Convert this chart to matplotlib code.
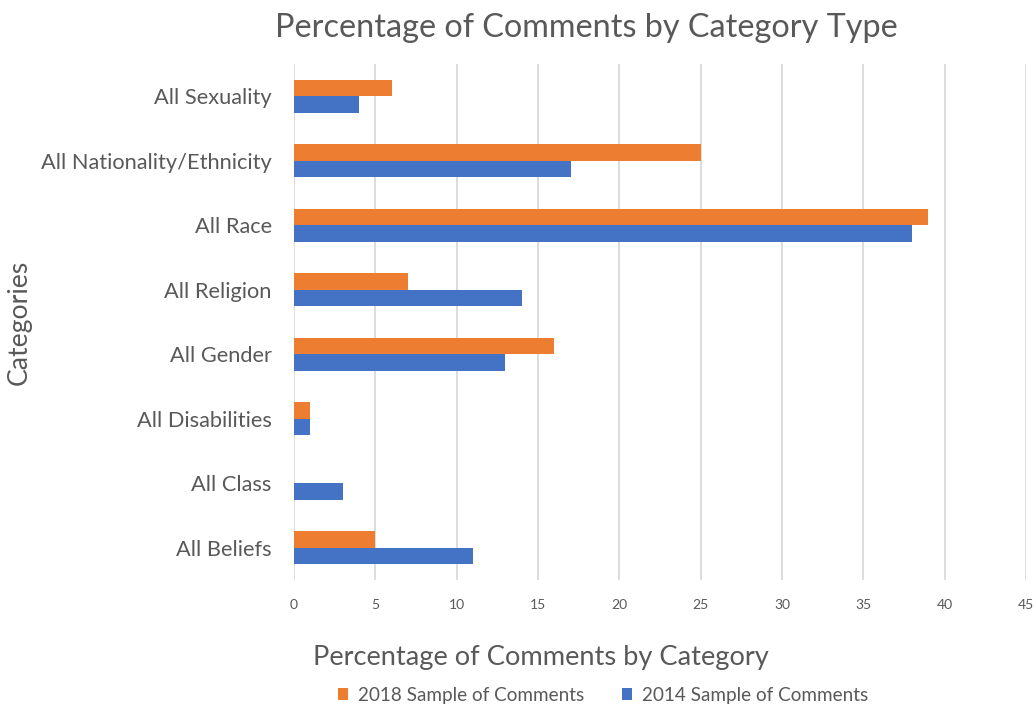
import matplotlib
matplotlib.use("Agg")
import matplotlib.pyplot as plt
import numpy as np

categories = ["All Sexuality", "All Nationality/Ethnicity", "All Race", "All Religion",
              "All Gender", "All Disabilities", "All Class", "All Beliefs"]
vals_2018 = [6, 25, 39, 7, 16, 1, 0, 5]
vals_2014 = [4, 17, 38, 14, 13, 1, 3, 11]
x_ticks = [0, 5, 10, 15, 20, 25, 30, 35, 40, 45]

ORANGE = "#ED7D31"
BLUE = "#4472C4"
TXT = "#595959"
plt.rcParams['font.family'] = ['Lato', 'DejaVu Sans']

fig = plt.figure(figsize=(10.36, 7.07), dpi=100)
ax = fig.add_axes([294/1036, 1-580/707, (1026-294)/1036, (580-64)/707])

y = np.arange(len(categories))
h = 0.255
ax.barh(y - h/2, vals_2018, height=h, color=ORANGE, label="2018 Sample of Comments", zorder=3)
ax.barh(y + h/2, vals_2014, height=h, color=BLUE, label="2014 Sample of Comments", zorder=3)

ax.set_ylim(len(categories) - 0.5, -0.5)
ax.set_xlim(0, 45)
ax.set_xticks(x_ticks)
ax.set_yticks(y)
ax.set_yticklabels(categories, fontsize=15.7, color=TXT)
ax.tick_params(axis='x', labelsize=10, colors=TXT, length=0, pad=14)
ax.tick_params(axis='y', length=0, pad=16)
ax.grid(axis='x', color="#d9d9d9", linewidth=1.3, zorder=0)
for s in ax.spines.values():
    s.set_visible(False)

fig.text(586/1036, 1-28/707, "Percentage of Comments by Category Type", fontsize=23.3,
         color=TXT, ha='center', va='center')
fig.text(541/1036, 1-657/707, "Percentage of Comments by Category", fontsize=19.6,
         color=TXT, ha='center', va='center')
fig.text(19/1036, 1-322/707, "Categories", fontsize=19.2, color=TXT, rotation=90,
         ha='center', va='center')

leg = fig.legend(loc='center', bbox_to_anchor=(603/1036, 1-695/707), ncol=2, frameon=False,
                 fontsize=13.6, handlelength=0.55, handleheight=0.55, columnspacing=2.0,
                 handletextpad=0.5)
for t in leg.get_texts():
    t.set_color(TXT)

fig.savefig("out.png", dpi=100)
